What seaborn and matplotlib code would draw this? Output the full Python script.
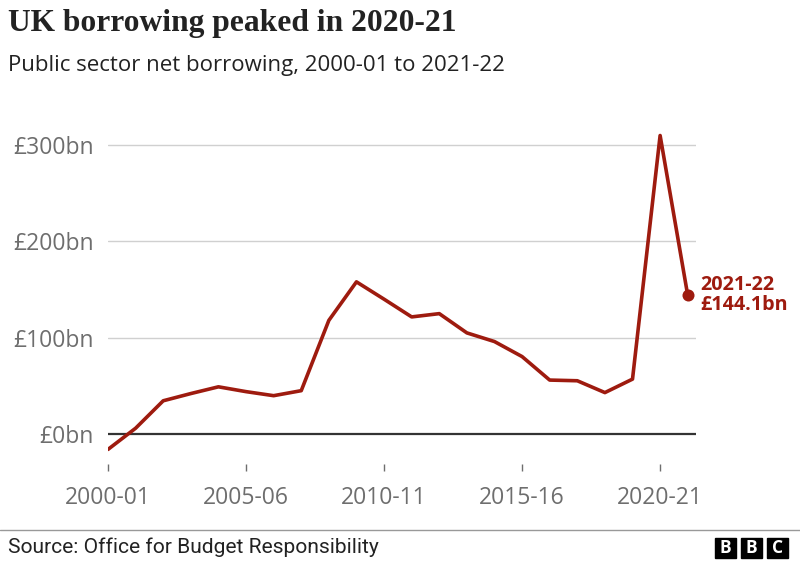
import matplotlib
matplotlib.use("Agg")
import matplotlib.pyplot as plt
import seaborn as sns
import pandas as pd
from matplotlib.patches import Rectangle
from matplotlib.lines import Line2D

years = ["2000-01", "2001-02", "2002-03", "2003-04", "2004-05", "2005-06", "2006-07",
         "2007-08", "2008-09", "2009-10", "2010-11", "2011-12", "2012-13", "2013-14",
         "2014-15", "2015-16", "2016-17", "2017-18", "2018-19", "2019-20", "2020-21",
         "2021-22"]
borrowing = [-16, 6, 34.5, 42, 49, 44, 39.8, 45, 118, 158, 140, 121.6, 125, 105,
             96, 80.4, 56, 55.3, 43, 57, 310, 144.1]
y_ticks = [0, 100, 200, 300]
y_tick_labels = ["£0bn", "£100bn", "£200bn", "£300bn"]
x_tick_labels = ["2000-01", "2005-06", "2010-11", "2015-16", "2020-21"]

df = pd.DataFrame({"idx": range(len(years)), "year": years, "value": borrowing})

sns.set_theme(style="white")
plt.rcParams["font.family"] = ["Open Sans", "DejaVu Sans"]

RED = "#9e1b0f"
GREY = "#6e6e6e"

fig = plt.figure(figsize=(8, 5.62), dpi=100)
W, H = 800, 562
left, right, top, bottom = 108, 696, 130, 464
ax = fig.add_axes([left / W, (H - bottom) / H, (right - left) / W, (bottom - top) / H])

sns.lineplot(data=df, x="idx", y="value", ax=ax, color=RED, linewidth=2.6, zorder=3)
last = df.iloc[-1]
ax.scatter([last["idx"]], [last["value"]], s=75, color=RED, zorder=4, linewidths=0)
ax.annotate(f"{last['year']}\n£{last['value']:.1f}bn", (last["idx"], last["value"]),
            xytext=(9, 0), textcoords="offset points", va="center", ha="left",
            fontsize=14.2, fontweight="bold", color=RED, linespacing=1.0)

ax.set_xlim(0, 21.3)
ax.set_ylim(-31.15, 315.7)
for s in ax.spines.values():
    s.set_visible(False)

ax.set_yticks(y_ticks)
ax.set_yticklabels(y_tick_labels)
for t in y_ticks:
    if t == 0:
        ax.axhline(t, color="#333333", linewidth=1.6, zorder=2)
    else:
        ax.axhline(t, color="#d0d0d0", linewidth=1.0, zorder=1)
ax.tick_params(axis="y", length=0, pad=10, labelsize=16.5, labelcolor=GREY)

xt = [years.index(y) for y in x_tick_labels]
ax.set_xticks(xt)
ax.set_xticklabels(x_tick_labels)
ax.tick_params(axis="x", length=5, width=1, color=GREY, pad=11, labelsize=16.5,
               labelcolor=GREY, direction="out", bottom=True)
ax.set_xlabel("")
ax.set_ylabel("")

renderer = fig.canvas.get_renderer()


def fit_text(x, y, s, target_w, size, **kw):
    t = fig.text(x / W, 1 - y / H, s, fontsize=size, va="center", **kw)
    w = t.get_window_extent(renderer).width
    t.set_fontsize(size * target_w / w)
    return t


fit_text(8, 23, "UK borrowing peaked in 2020-21", 447, 22, fontweight="bold",
         family=["Liberation Serif"], color="#222222")
fit_text(8, 65, "Public sector net borrowing, 2000-01 to 2021-22", 497, 16.5,
         color="#222222")

fig.add_artist(Line2D([0, 1], [1 - 530 / H, 1 - 530 / H], color="#999999", linewidth=1,
                      transform=fig.transFigure))
fit_text(8, 547, "Source: Office for Budget Responsibility", 370, 13, color="#222222",
         family=["Roboto", "DejaVu Sans"])
for i, ch in enumerate("BBC"):
    x0 = 715 + i * 26
    fig.add_artist(Rectangle((x0 / W, 1 - 558 / H), 21 / W, 20 / H, color="black",
                             transform=fig.transFigure))
    fig.text((x0 + 10.5) / W, 1 - 548 / H, ch, color="white", fontsize=12.5,
             fontweight="bold", ha="center", va="center")

fig.savefig("out.png", dpi=100)
